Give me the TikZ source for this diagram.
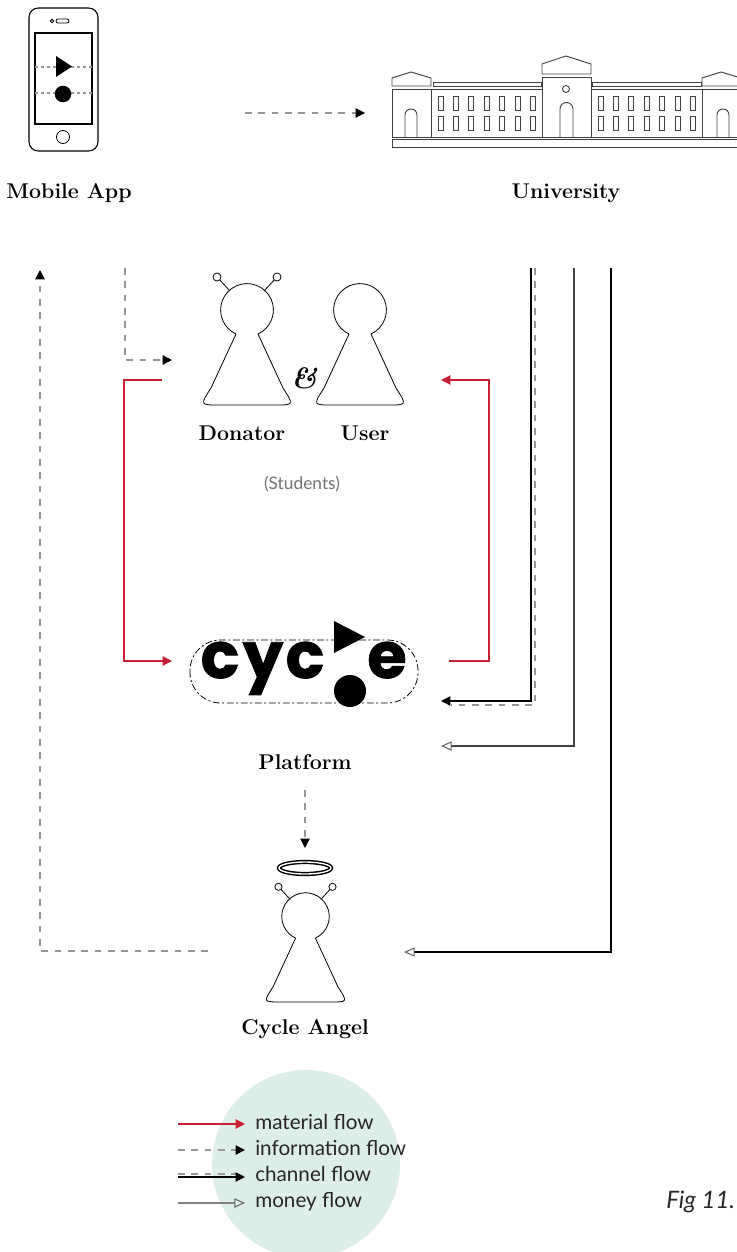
\documentclass[tikz,border=0pt]{standalone}
\usepackage{fontspec}
\usepackage{tikz}
\usepackage{xcolor}
\usetikzlibrary{arrows.meta}
\newfontfamily\avenir{Lato}
\newfontfamily\logofont[BoldFeatures={FakeBold=1.2}]{Poppins}
\definecolor{matred}{RGB}{200,32,52}
\definecolor{mint}{RGB}{220,238,232}
\definecolor{dashgray}{RGB}{150,150,150}
\tikzstyle{lbl}=[font=\fontsize{16}{18}\selectfont\bfseries, inner sep=0pt, anchor=base]
\tikzstyle{legtxt}=[font=\avenir\fontsize{15.5}{18}\selectfont, text=black!85, inner sep=0pt, anchor=base west]
\tikzstyle{logo}=[font=\logofont\fontsize{48}{48}\selectfont\bfseries, inner sep=0pt, anchor=base]
\tikzstyle{bld}=[draw=black!75, line width=0.7pt]
\tikzstyle{mat}=[draw=matred, line width=0.9pt, -{Triangle[width=7pt,length=7pt]}]
\tikzstyle{info}=[draw=dashgray, line width=0.9pt, dash pattern=on 5pt off 5pt,
  -{Triangle[width=7pt,length=7pt,color=black]}]
\tikzstyle{chan}=[draw=black, line width=0.9pt, -{Triangle[width=7pt,length=7pt]}]
\tikzstyle{chandash}=[draw=dashgray, line width=0.9pt, dash pattern=on 5pt off 5pt]
\tikzstyle{money}=[draw=black!75, line width=0.8pt,
  -{Triangle[open,width=7pt,length=8pt,color=black!60]}]

\tikzset{
  pawn/.pic={
    \draw[line width=0.6pt] (-11,24) -- (-36,78) .. controls (-47,95) .. (-28,95)
      -- (28,95) .. controls (47,95) .. (36,78) -- (11,24)
      arc[start angle=65.4, end angle=-245.4, radius=26.4];
  },
  antennae/.pic={
    \draw[line width=0.6pt] (-17,-19) -- (-29,-32) (17,-19) -- (29,-32);
    \filldraw[line width=0.6pt, fill=white] (-30,-33) circle (4) (30,-33) circle (4);
  }
}

\begin{document}
\begin{tikzpicture}[x=0.75pt, y=-0.75pt]
\useasboundingbox (0,0) rectangle (736,1252);

% phone
\draw[line width=0.8pt, rounded corners=7pt] (29,8) rectangle (98,151);
\draw[line width=0.8pt] (35,33) rectangle (92,124);
\draw[line width=0.6pt] (52,21) circle (1.8);
\draw[line width=0.6pt, rounded corners=1.5pt] (56,19) rectangle (69,23);
\draw[line width=0.6pt] (63,137) circle (6.5);
\draw[dashgray, line width=0.8pt, dash pattern=on 2.5pt off 2pt] (35,67) -- (92,67) (35,93) -- (92,93);
\fill (56,56) -- (56,77) -- (72,66.5) -- cycle;
\fill (63,94) circle (8.3);
\node[lbl] (app) at (69,198) {Mobile App};

% university
\draw[bld] (392,86) -- (392,78) -- (411,72) -- (431,78) -- (431,86) -- cycle;
\draw[bld] (392,89) rectangle (431,137);
\draw[bld] (405,137) -- (405,115) arc[start angle=180, end angle=360, radius=6] -- (417,137);
\draw[bld] (433,82) rectangle (541,86);
\draw[bld] (431,89) rectangle (542,137);
\draw[bld] (542,74) -- (542,64) -- (566,56) -- (591,64) -- (591,74) -- cycle;
\draw[bld] (542,77) rectangle (591,137);
\draw[bld] (566,89) circle (3.5);
\draw[bld] (560,137) -- (560,109) arc[start angle=180, end angle=360, radius=6.5] -- (573,137);
\draw[bld] (592,82) rectangle (701,86);
\draw[bld] (591,89) rectangle (702,137);
\draw[bld] (702,86) -- (702,78) -- (721,72) -- (741,78) -- (741,86) -- cycle;
\draw[bld] (702,89) rectangle (741,137);
\draw[bld] (717,137) -- (717,115) arc[start angle=180, end angle=360, radius=6] -- (729,137);
\foreach \i in {0,...,6} {
  \draw[bld] (438+15.4*\i,96) rectangle +(5,14);
  \draw[bld] (438+15.4*\i,116) rectangle +(5,14);
  \draw[bld] (598+15.4*\i,96) rectangle +(5,14);
  \draw[bld] (598+15.4*\i,116) rectangle +(5,14);
}
\draw[bld] (392,139) rectangle (745,147);
\node[lbl] (uni) at (566,198) {University};

%%%%%%%%%%%%%%%%%%%%%%%%%%%

% students
\pic (donator) at (247,310) {pawn};
\pic at (247,310) {antennae};
\pic (user) at (360,310) {pawn};
\node[font=\fontsize{22}{22}\selectfont\bfseries\itshape, inner sep=0pt] (amp) at (304,378) {\&};
\node[lbl] (don) at (242,440) {Donator};
\node[lbl] (usr) at (365,440) {User};
\node[font=\avenir\fontsize{13}{15}\selectfont, text=black!55, inner sep=0pt, anchor=base] (stud) at (302,489) {(Students)};

% platform logo
\draw[line width=0.6pt, dash pattern=on 5pt off 2pt on 1.5pt off 2pt, rounded corners=23pt] (190,640) rectangle (418,703);
\node[logo] (c1) at (220,678) {c};
\node[logo] (y1) at (263,678) {y};
\node[logo] (c2) at (305,678) {c};
\node[logo] (e1) at (387,678) {e};
\fill (334,621) -- (334,653) -- (365,637) -- cycle;
\fill (350,691) circle (16);
\node[lbl] (pla) at (305,769) {Platform};

% angel
\draw[line width=1.1pt, double=white, double distance=1pt] (305,868) ellipse [x radius=26, y radius=6];
\pic[scale=0.9] (angel) at (305.5,916.5) {pawn};
\pic[scale=0.9] at (305.5,916.5) {antennae};
\node[lbl] (ang) at (305,1034) {Cycle Angel};

%%%%%%%%%%%%%%%%%%%%%%%%%%%

\coordinate (phone-e) at (245,113);
\coordinate (uni-w) at (365,113);
\coordinate (app-s) at (125,268);
\coordinate (don-w) at (172,360);
\coordinate (ang-w) at (208,951);
\coordinate (app-b) at (40,270);
\coordinate (don-l) at (162,380);
\coordinate (pla-w) at (172,661);
\coordinate (pla-e) at (449,661);
\coordinate (usr-e) at (441,380);
\coordinate (uni-a) at (531,268);
\coordinate (uni-b) at (535,268);
\coordinate (uni-c) at (574,268);
\coordinate (uni-d) at (611,268);
\coordinate (pla-c) at (441,701);
\coordinate (pla-d) at (451,705);
\coordinate (pla-m) at (441,746);
\coordinate (ang-e) at (404,952);
\coordinate (pla-s) at (305,790);
\coordinate (ang-n) at (305,848);

\draw[info] (phone-e) -- (uni-w);
\draw[info] (app-s) |- (don-w);
\draw[info] (ang-w) -| (app-b);
\draw[mat] (don-l) -- +(-38,0) |- (pla-w);
\draw[mat] (pla-e) -- +(40,0) |- (usr-e);
\draw[chandash] (uni-b) |- (pla-d);
\draw[chan] (uni-a) |- (pla-c);
\draw[money] (uni-c) |- (pla-m);
\draw[money, draw=black] (uni-d) |- (ang-e);
\draw[info] (pla-s) -- (ang-n);

% legend
\fill[mint] (306,1164) circle (94);
\coordinate (k1) at (178,1124);
\coordinate (k1e) at (245,1124);
\coordinate (k2) at (178,1150);
\coordinate (k2e) at (245,1150);
\coordinate (k3) at (178,1177);
\coordinate (k3e) at (245,1177);
\coordinate (k3d) at (178,1174);
\coordinate (k3f) at (238,1174);
\coordinate (k4) at (178,1203);
\coordinate (k4e) at (245,1203);
\draw[mat] (k1) -- (k1e);
\draw[info] (k2) -- (k2e);
\draw[chandash] (k3d) -- (k3f);
\draw[chan] (k3) -- (k3e);
\draw[money, draw=black!50] (k4) -- (k4e);
\node[legtxt] (t1) at (255,1129) {material flow};
\node[legtxt] (t2) at (255,1155) {information flow};
\node[legtxt] (t3) at (255,1181) {channel flow};
\node[legtxt] (t4) at (255,1207) {money flow};

\node[font=\avenir\fontsize{18}{20}\selectfont\itshape, text=black!85, inner sep=0pt, anchor=base west] (fig) at (666,1208) {Fig 11.};

\end{tikzpicture}
\end{document}
